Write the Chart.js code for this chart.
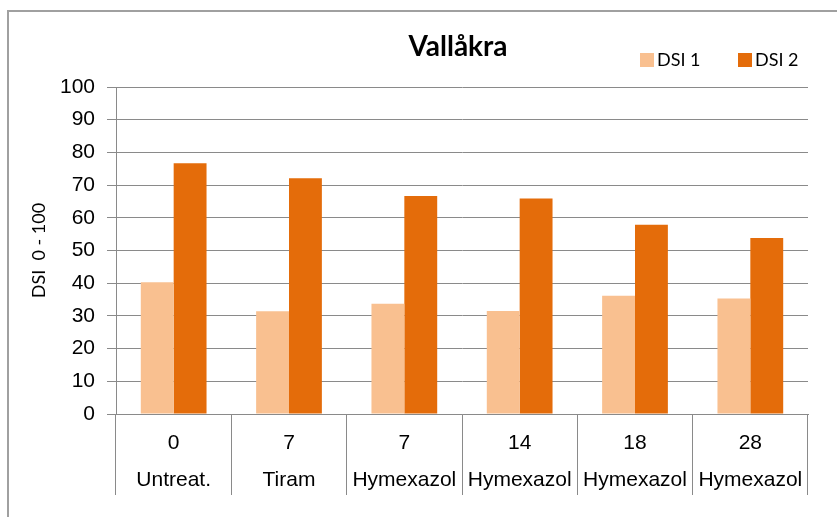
<!DOCTYPE html>
<html lang="sv">
<head>
    <meta charset="UTF-8">
    <title>Vallåkra</title>
    <script src="https://cdn.jsdelivr.net/npm/chart.js"></script>
    <style>
        body {
            margin: 0;
            background: #fff;
        }
        .frame {
            position: absolute;
            left: 7px;
            top: 10px;
            width: 900px;
            height: 600px;
            border: 2px solid #a0a0a0;
            box-sizing: border-box;
        }
        .wrap {
            position: absolute;
            left: 0;
            top: 0;
            width: 837px;
            height: 517px;
        }
    </style>
</head>
<body>
    <div class="frame"></div>
    <div class="wrap">
        <canvas id="dsiChart"></canvas>
    </div>

    <script>
        // data
        const doses = ['0', '7', '7', '14', '18', '28'];
        const treatments = ['Untreat.', 'Tiram', 'Hymexazol', 'Hymexazol', 'Hymexazol', 'Hymexazol'];
        const dsi1 = [40.3, 31.4, 33.7, 31.5, 36.2, 35.3];
        const dsi2 = [76.7, 72.1, 66.7, 65.9, 57.9, 53.8];
        const chartTitle = 'Vallåkra';
        const seriesNames = ['DSI 1', 'DSI 2'];
        const seriesColors = ['#f9c090', '#e46c0a'];

        const gridColor = '#8a8a8a';
        const tickFont = { family: '"Liberation Sans", Arial, sans-serif', size: 21, lineHeight: 1.76 };

        // title + legend sit over the plot area like in the original
        const titleAndLegend = {
            id: 'titleAndLegend',
            afterDraw(chart) {
                const ctx = chart.ctx;
                const area = chart.chartArea;
                ctx.save();
                ctx.fillStyle = '#000';
                ctx.textBaseline = 'middle';
                ctx.textAlign = 'center';
                ctx.font = 'bold 28px Lato, "Open Sans", sans-serif';
                ctx.fillText(chartTitle, (area.left + area.right) / 2 - 4, 47);

                ctx.textAlign = 'left';
                ctx.font = '18px Lato, "Open Sans", sans-serif';
                const boxX = [640, 738];
                seriesNames.forEach((name, i) => {
                    ctx.fillStyle = seriesColors[i];
                    ctx.fillRect(boxX[i], 53, 14, 14);
                    ctx.fillStyle = '#000';
                    ctx.fillText(name, boxX[i] + 17, 60);
                });
                ctx.restore();
            }
        };

        const ctx = document.getElementById('dsiChart').getContext('2d');
        new Chart(ctx, {
            type: 'bar',
            data: {
                labels: doses.map((d, i) => [d, treatments[i]]),
                datasets: [
                    {
                        label: seriesNames[0],
                        data: dsi1,
                        backgroundColor: seriesColors[0]
                    },
                    {
                        label: seriesNames[1],
                        data: dsi2,
                        backgroundColor: seriesColors[1]
                    }
                ]
            },
            options: {
                responsive: true,
                maintainAspectRatio: false,
                animation: false,
                layout: {
                    padding: { top: 87, right: 29, bottom: 0, left: 0 }
                },
                datasets: {
                    bar: {
                        categoryPercentage: 0.57,
                        barPercentage: 1
                    }
                },
                plugins: {
                    legend: { display: false },
                    title: { display: false },
                    tooltip: { enabled: false }
                },
                scales: {
                    x: {
                        grid: {
                            offset: true,
                            drawOnChartArea: false,
                            color: gridColor,
                            tickLength: 81
                        },
                        border: { color: gridColor },
                        ticks: {
                            color: '#000',
                            font: tickFont,
                            padding: -70,
                            maxRotation: 0,
                            autoSkip: false
                        },
                        afterFit(scale) {
                            scale.height = 103;
                        }
                    },
                    y: {
                        min: 0,
                        max: 100,
                        ticks: {
                            stepSize: 10,
                            autoSkip: false,
                            color: '#000',
                            font: tickFont,
                            padding: 12
                        },
                        grid: {
                            color: gridColor,
                            tickLength: 9
                        },
                        border: { color: gridColor },
                        title: {
                            display: true,
                            text: 'DSI  0 - 100',
                            color: '#000',
                            font: { family: 'Lato, "Open Sans", sans-serif', size: 18, lineHeight: 1.2 },
                            padding: { top: 28, bottom: 0 }
                        },
                        afterFit(scale) {
                            scale.width = 116;
                        }
                    }
                }
            },
            plugins: [titleAndLegend]
        });
    </script>
</body>
</html>
